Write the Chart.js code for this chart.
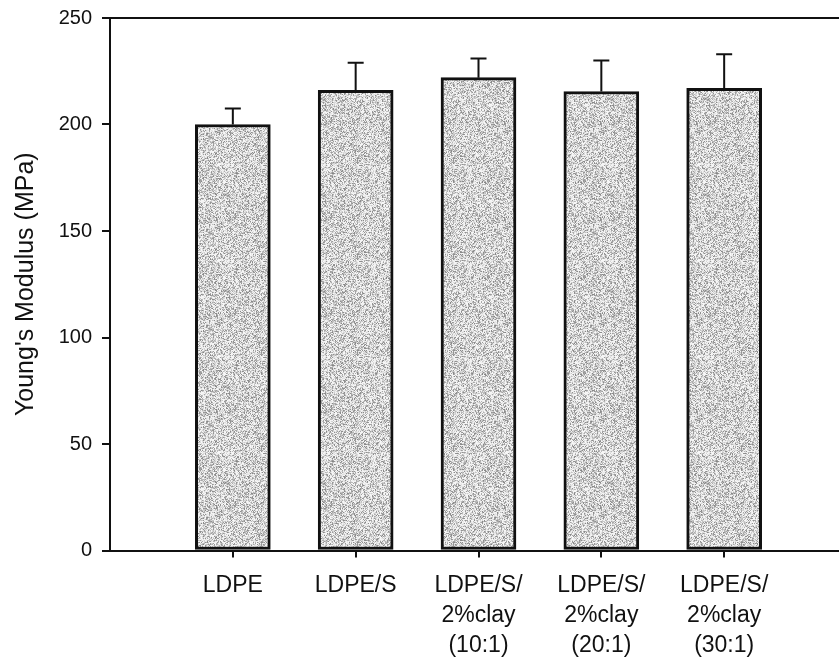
<!DOCTYPE html>
<html>
<head>
<meta charset="utf-8">
<script src="https://cdn.jsdelivr.net/npm/chart.js@4/dist/chart.umd.min.js"></script>
<style>
  html, body { margin: 0; padding: 0; background: #fff; overflow: hidden; }
  #wrap { width: 839px; height: 669px; overflow: hidden; }
</style>
</head>
<body>
<div id="wrap"><canvas id="modulusChart" width="860" height="669"></canvas></div>
<script>
// sample names (one array per line of the tick label)
var samples = [
  ['LDPE'],
  ['LDPE/S'],
  ['LDPE/S/', '2%clay', '(10:1)'],
  ['LDPE/S/', '2%clay', '(20:1)'],
  ['LDPE/S/', '2%clay', '(30:1)']
];
// mean Young's modulus (MPa) and standard deviation
var modulus = [200, 216, 222, 215.5, 217];
var stdDev = [7.5, 13, 9, 14.5, 16];
var yTicks = [0, 50, 100, 150, 200, 250];

var FONT = '"Liberation Sans", Arial, sans-serif';

// grey stipple used to fill the bars
function stipple() {
  var c = document.createElement('canvas');
  c.width = 96; c.height = 96;
  var g = c.getContext('2d');
  var img = g.createImageData(96, 96);
  var s = 12345;
  for (var i = 0; i < 96 * 96; i++) {
    s = (s * 1103515245 + 12345) & 0x7fffffff;
    var h = s / 0x7fffffff;
    var v = Math.round(248 - 115 * Math.pow(h, 1.8));
    img.data[i * 4] = v;
    img.data[i * 4 + 1] = v;
    img.data[i * 4 + 2] = v;
    img.data[i * 4 + 3] = 255;
  }
  g.putImageData(img, 0, 0);
  return g.createPattern(c, 'repeat');
}

var points = modulus.map(function(v, i) {
  return { x: i + 1, y: v };
});

// upward error bars and the top frame line
var extras = {
  id: 'extras',
  afterDatasetsDraw: function(chart) {
    var ctx = chart.ctx;
    var xs = chart.scales.x, ys = chart.scales.y;
    ctx.save();
    ctx.strokeStyle = '#111';
    ctx.lineWidth = 2;
    modulus.forEach(function(v, i) {
      var x = xs.getPixelForValue(i + 1);
      var y0 = ys.getPixelForValue(v);
      var y1 = ys.getPixelForValue(v + stdDev[i]);
      ctx.beginPath();
      ctx.moveTo(x, y0);
      ctx.lineTo(x, y1);
      ctx.moveTo(x - 8, y1);
      ctx.lineTo(x + 8, y1);
      ctx.stroke();
    });
    var a = chart.chartArea;
    ctx.beginPath();
    ctx.moveTo(a.left, a.top);
    ctx.lineTo(a.right, a.top);
    ctx.lineTo(a.right, a.bottom);
    ctx.stroke();
    ctx.restore();
  }
};

var ctx = document.getElementById('modulusChart').getContext('2d');
var chart = new Chart(ctx, {
  type: 'bar',
  data: {
    datasets: [{
      data: points,
      backgroundColor: stipple(),
      borderColor: '#111',
      borderWidth: 3,
      borderSkipped: false,
      barThickness: 75
    }]
  },
  options: {
    responsive: false,
    animation: false,
    layout: { padding: { top: 18, right: 13, left: 0, bottom: 0 } },
    plugins: { legend: { display: false }, tooltip: { enabled: false } },
    scales: {
      x: {
        type: 'linear',
        min: 0,
        max: 6,
        offset: false,
        afterBuildTicks: function(scale) {
          scale.ticks = samples.map(function(s, i) { return { value: i + 1 }; });
        },
        afterFit: function(scale) { scale.height = 118.5; },
        ticks: {
          autoSkip: false,
          maxRotation: 0,
          padding: 13,
          color: '#111',
          font: { family: FONT, size: 23, lineHeight: 1.3 },
          callback: function(v) { return samples[v - 1]; }
        },
        grid: {
          offset: false,
          drawOnChartArea: false,
          drawTicks: true,
          tickLength: 7,
          color: '#111',
          lineWidth: 2
        },
        border: { display: true, color: '#111', width: 2 }
      },
      y: {
        min: 0,
        max: 250,
        afterBuildTicks: function(scale) {
          scale.ticks = yTicks.map(function(v) { return { value: v }; });
        },
        afterFit: function(scale) {
          scale.width = 110;
          scale.paddingTop = 0;
          scale.paddingBottom = 0;
        },
        ticks: {
          padding: 10,
          color: '#111',
          font: { family: FONT, size: 20 }
        },
        grid: {
          drawOnChartArea: false,
          drawTicks: true,
          tickLength: 8,
          color: '#111',
          lineWidth: 2
        },
        border: { display: true, color: '#111', width: 2 },
        title: {
          display: true,
          text: "Young's Modulus (MPa)",
          color: '#111',
          font: { family: FONT, size: 25 },
          padding: { top: 11, bottom: 0 }
        }
      }
    }
  },
  plugins: [extras]
});
</script>
</body>
</html>
